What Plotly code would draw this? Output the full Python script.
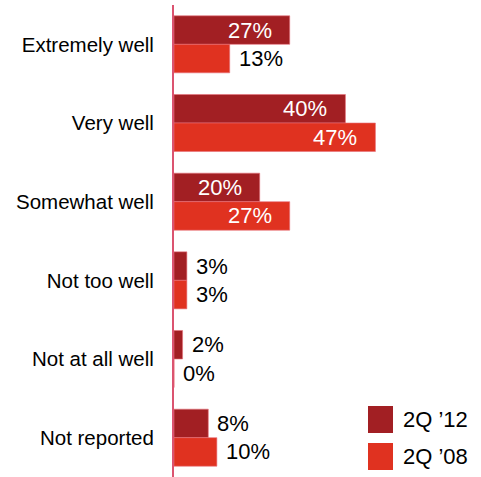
import plotly.graph_objects as go

categories = ["Extremely well", "Very well", "Somewhat well", "Not too well", "Not at all well", "Not reported"]
series_names = ["2Q \u201912", "2Q \u201908"]
values_2q12 = [27, 40, 20, 3, 2, 8]
values_2q08 = [13, 47, 27, 3, 0, 10]

colors = ["#A21F23", "#E03220"]
series_values = [values_2q12, values_2q08]

W, H = 481, 477
ML, MR, MT, MB = 174, 7, 5, 0
plot_w = W - ML - MR
plot_h = H - MT - MB

BARGAP = 0.275
bar_w = (1 - BARGAP) / 2
offsets = [-bar_w / 2, bar_w / 2]
ypos = list(range(len(categories)))

fig = go.Figure()
for name, vals, col in zip(series_names, series_values, colors):
    fig.add_trace(go.Bar(
        x=vals, y=ypos, orientation="h", name=name,
        marker=dict(color=col, line=dict(color="#E8707A", width=0.6)),
        showlegend=False, hoverinfo="skip",
    ))

# value labels: white inside long bars, black just past short ones
annotations = []
for vals, off in zip(series_values, offsets):
    for i, v in enumerate(vals):
        inside = v >= 15
        annotations.append(dict(
            x=v, y=i + off, xref="x", yref="y", text=f"{v}%", showarrow=False,
            xanchor="right" if inside else "left", xshift=-16 if inside else 7,
            yanchor="middle",
            font=dict(family="Liberation Sans, Arial", size=22,
                      color="white" if inside else "black"),
        ))

# legend: colour squares with series names
def px_x(px):
    return (px - ML) / plot_w

def px_y(py):
    return (H - MB - py) / plot_h

shapes = []
for k, (name, col) in enumerate(zip(series_names, colors)):
    top = 406 + 37 * k
    shapes.append(dict(type="rect", xref="paper", yref="paper",
                       x0=px_x(368), x1=px_x(393), y0=px_y(top + 27), y1=px_y(top),
                       fillcolor=col, line=dict(width=0)))
    annotations.append(dict(x=px_x(401), y=px_y(top + 13.5), xref="paper", yref="paper",
                            text=name, showarrow=False, xanchor="left", yanchor="middle",
                            font=dict(family="Liberation Sans, Arial", size=22, color="black")))

fig.update_layout(
    width=W, height=H,
    margin=dict(l=ML, r=MR, t=MT, b=MB, pad=0),
    paper_bgcolor="white", plot_bgcolor="white",
    barmode="group", bargap=BARGAP, bargroupgap=0,
    annotations=annotations, shapes=shapes,
    showlegend=False,
    xaxis=dict(range=[0, 70], visible=False, showgrid=False, zeroline=False),
    yaxis=dict(
        range=[len(categories) - 0.5, -0.5], tickmode="array",
        tickvals=ypos, ticktext=categories, showgrid=False, zeroline=False,
        showline=True, linecolor="#DB5470", linewidth=2, ticks="",
        ticklabelstandoff=14,
        tickfont=dict(family="Liberation Sans, Arial", size=20.5, color="black"),
    ),
)

fig.write_html("out.html")
